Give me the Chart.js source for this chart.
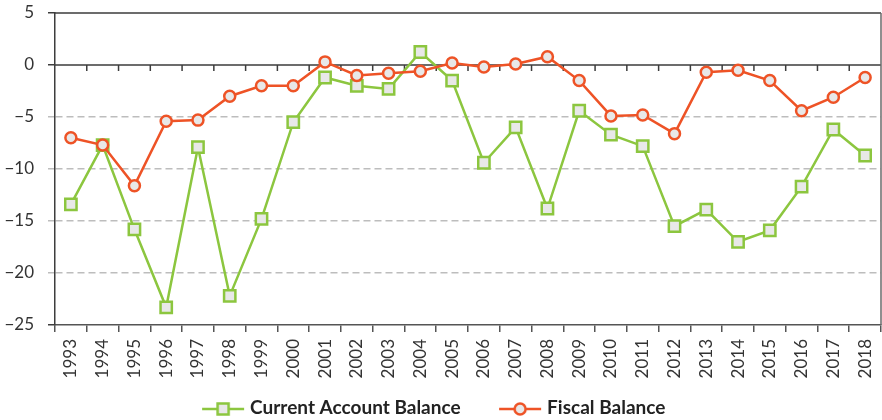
<!DOCTYPE html>
<html><head><meta charset="utf-8">
<script src="https://cdn.jsdelivr.net/npm/chart.js@4/dist/chart.umd.min.js"></script>
<style>html,body{margin:0;padding:0;background:#fff}</style>
</head><body>
<canvas id="c" width="882" height="420" style="width:882px;height:420px;display:block"></canvas>
<script>
const years = ['1993','1994','1995','1996','1997','1998','1999','2000','2001','2002','2003','2004','2005','2006','2007','2008','2009','2010','2011','2012','2013','2014','2015','2016','2017','2018'];
const currentAccount = [-13.4,-7.7,-15.8,-23.3,-7.9,-22.2,-14.8,-5.5,-1.2,-2.0,-2.3,1.25,-1.5,-9.4,-6.0,-13.8,-4.4,-6.7,-7.8,-15.5,-13.9,-17.0,-15.9,-11.7,-6.2,-8.7];
const fiscalBalance = [-7.0,-7.7,-11.6,-5.4,-5.3,-3.0,-2.0,-2.0,0.3,-1.0,-0.8,-0.6,0.2,-0.2,0.1,0.8,-1.5,-4.9,-4.8,-6.6,-0.7,-0.5,-1.5,-4.4,-3.1,-1.2];
const seriesNames = ['Current Account Balance','Fiscal Balance'];
const yMin = -25, yMax = 5, yStep = 5;

const GREEN = '#8cc63f', ORANGE = '#ee5326', FILL = '#e8e8e8';
const FONT = 'Lato, "Open Sans", sans-serif';

function legendIcon(kind, color) {
  const cv = document.createElement('canvas');
  cv.width = 84; cv.height = 22;
  const g = cv.getContext('2d');
  const cy = 12, x0 = 41, x1 = 83, cx = (x0 + x1) / 2;
  g.strokeStyle = color; g.lineWidth = 2.5;
  g.beginPath(); g.moveTo(x0, cy); g.lineTo(x1, cy); g.stroke();
  g.fillStyle = FILL;
  g.beginPath();
  if (kind === 'rect') g.rect(cx - 5.5, cy - 5.5, 11, 11);
  else g.arc(cx, cy, 5.5, 0, Math.PI * 2);
  g.fill(); g.stroke();
  return cv;
}
const iconG = legendIcon('rect', GREEN);
const iconO = legendIcon('circle', ORANGE);

const framePlugin = {
  id: 'frame',
  beforeLayout(chart) {
    const L = chart.legend;
    if (L && !L._fitPatched) {
      const fit = L.fit;
      L.fit = function () { fit.call(this); this.height = 23.5; };
      L._fitPatched = true;
    }
  },
  afterLayout(chart) {
    if (chart.legend) { chart.legend.right -= 50; }
  },
  beforeDatasetsDraw(chart) {
    const {ctx, chartArea: a, scales: {x, y}} = chart;
    const y0 = y.getPixelForValue(0);
    ctx.save();
    ctx.lineWidth = 1.5;
    ctx.strokeStyle = '#3d3d3d';
    ctx.beginPath();
    ctx.moveTo(a.left, y0); ctx.lineTo(a.right, y0);
    ctx.moveTo(a.left, a.top); ctx.lineTo(a.right, a.top);
    for (let i = 1; i < years.length; i++) {
      const xb = (x.getPixelForValue(i - 1) + x.getPixelForValue(i)) / 2;
      ctx.moveTo(xb, y0); ctx.lineTo(xb, y0 + 6);
    }
    ctx.stroke();
    ctx.strokeStyle = '#6a6a6a';
    ctx.beginPath();
    ctx.moveTo(a.right, a.top); ctx.lineTo(a.right, a.bottom);
    ctx.stroke();
    ctx.restore();
  }
};

new Chart(document.getElementById('c'), {
  type: 'line',
  data: {
    labels: years,
    datasets: [
      { label: seriesNames[0], data: currentAccount, borderColor: GREEN, backgroundColor: FILL,
        borderWidth: 2.5, pointStyle: 'rect', pointRadius: 8, pointBorderWidth: 2.5,
        pointBackgroundColor: FILL, pointBorderColor: GREEN, tension: 0, order: 1 },
      { label: seriesNames[1], data: fiscalBalance, borderColor: ORANGE, backgroundColor: FILL,
        borderWidth: 2.5, pointStyle: 'circle', pointRadius: 5.5, pointBorderWidth: 2.5,
        pointBackgroundColor: FILL, pointBorderColor: ORANGE, tension: 0, order: 0 }
    ]
  },
  options: {
    responsive: false,
    animation: false,
    layout: { autoPadding: false, padding: { top: 13, right: 1, left: 0, bottom: 0 } },
    plugins: {
      tooltip: { enabled: false },
      legend: {
        position: 'bottom',
        labels: {
          usePointStyle: true,
          pointStyleWidth: 75,
          padding: 2,
          color: '#222',
          font: { family: FONT, size: 19, weight: 'bold' },
          generateLabels: () => [
            { text: seriesNames[0], pointStyle: iconG, fillStyle: 'transparent', strokeStyle: 'transparent', lineWidth: 0, hidden: false, datasetIndex: 0, fontColor: '#222' },
            { text: seriesNames[1], pointStyle: iconO, fillStyle: 'transparent', strokeStyle: 'transparent', lineWidth: 0, hidden: false, datasetIndex: 1, fontColor: '#222' }
          ]
        }
      }
    },
    scales: {
      x: {
        offset: true,
        grid: { display: true, drawOnChartArea: false, offset: true, tickLength: 7, color: '#555', lineWidth: 1.5 },
        border: { display: true, color: '#555', width: 1.5 },
        ticks: { minRotation: 90, maxRotation: 90, autoSkip: false, padding: 7, color: '#333', font: { family: FONT, size: 17 } },
        afterFit: s => { s.height = 71.5; s.paddingLeft = 0; s.paddingRight = 0; }
      },
      y: {
        min: yMin, max: yMax,
        ticks: {
          stepSize: yStep, padding: 14, color: '#333', font: { family: FONT, size: 17 },
          callback: v => v < 0 ? '\u2212' + Math.abs(v) : String(v)
        },
        grid: {
          tickLength: 7, lineWidth: 1.5,
          color: c => (c.tick && (c.tick.value === 0 || c.tick.value === yMax || c.tick.value === yMin)) ? 'rgba(0,0,0,0)' : '#bdbdbd',
          tickColor: c => (c.tick && (c.tick.value === 0 || c.tick.value === yMax || c.tick.value === yMin)) ? '#3d3d3d' : '#bdbdbd'
        },
        border: { display: true, color: '#3d3d3d', width: 1.5, dash: [7, 4] },
        afterFit: s => { s.width = 55; s.paddingTop = 0; s.paddingBottom = 0; }
      }
    }
  },
  plugins: [framePlugin]
});
</script>
</body></html>
